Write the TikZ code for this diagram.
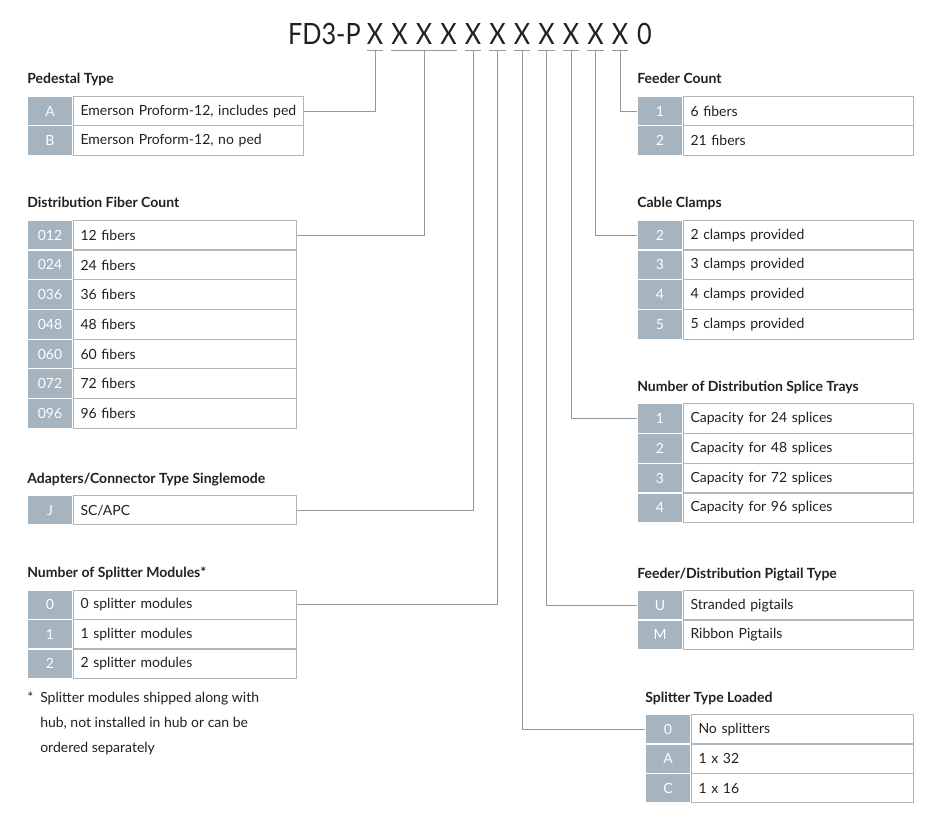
\documentclass[tikz,border=0pt]{standalone}
\usepackage{fontspec}
\setmainfont{Lato}
\newfontfamily\partfont[FakeStretch=0.86]{Lato}
\usetikzlibrary{positioning}
\definecolor{codegray}{HTML}{A5B4BE}
\definecolor{rulegray}{HTML}{AEB7BD}
\definecolor{linkgray}{HTML}{8F989E}
\definecolor{inkgray}{HTML}{231F20}

\begin{document}
\begin{tikzpicture}[x=0.75pt,y=-0.75pt,
  font=\fontsize{10.5}{12}\selectfont, text=inkgray,
  code/.style={fill=codegray,draw=white,line width=0.75pt,text=white,
    minimum width=33.75pt,minimum height=22.1pt,inner sep=0pt,anchor=north west},
  entry/.style={draw=rulegray,line width=0.75pt,text width=#1,minimum height=22.1pt,
    inner xsep=5.25pt,inner ysep=0pt,align=left},
  entry/.default=156.75pt,
  head/.style={font=\fontsize{10.5}{12}\selectfont\bfseries,inner sep=0pt,anchor=base west},
  link/.style={draw=linkgray,line width=0.75pt},
  big/.style={font=\partfont\fontsize{22}{24}\selectfont,inner xsep=0pt,inner ysep=4.8pt,
    text depth=0pt,anchor=base}]

  \useasboundingbox (0,0) rectangle (943,827);

  % part number
  \node[big,anchor=base east] (fd) at (361,44.3) {FD3-P};
  \foreach \i in {1,...,11}
    \node[big] (x\i) at ({375+24.5*(\i-1)},44.3) {X};
  \node[big] (x12) at (644.5,44.3) {0};
  \draw[link] (x1.south west) -- (x1.south east);
  \draw[link] (x2.south west) -- (x4.south east);
  \foreach \i in {5,...,11}
    \draw[link] (x\i.south west) -- (x\i.south east);

  % left column
  \foreach \key/\desc [count=\i] in {A/{Emerson Proform-12, includes ped},B/{Emerson Proform-12, no ped}} {
    \node[code] (pc\i) at (27,{96+29.5*(\i-1)}) {\key};
    \node[entry=162pt,right=0pt of pc\i] (pt\i) {\desc};
  }
  \node[head] at ([yshift=9pt]pc1.north west) {Pedestal Type};

  \foreach \key/\desc [count=\i] in {012/12 fibers,024/24 fibers,036/36 fibers,048/48 fibers,060/60 fibers,072/72 fibers,096/96 fibers} {
    \node[code] (dc\i) at (27,{220+29.7*(\i-1)}) {\key};
    \node[entry,right=0pt of dc\i] (dt\i) {\desc};
  }
  \node[head] at ([yshift=9pt]dc1.north west) {Distribution Fiber Count};

  \node[code] (ac1) at (27,495) {J};
  \node[entry,right=0pt of ac1] (at1) {SC/APC};
  \node[head] at ([yshift=9pt]ac1.north west) {Adapters/Connector Type Singlemode};

  \foreach \key [count=\i] in {0,1,2} {
    \node[code] (sc\i) at (27,{589.5+29.5*(\i-1)}) {\key};
    \node[entry,right=0pt of sc\i] (st\i) {\key\ splitter modules};
  }
  \node[head] at ([yshift=9pt]sc1.north west) {Number of Splitter Modules*};
  \node[anchor=north west,inner sep=0pt] (star) at (27,692) {*};
  \node[anchor=north west,inner sep=0pt,align=left,
    font=\fontsize{10.5}{18.75}\selectfont] (note) at (40,692)
    {Splitter modules shipped along with\\hub, not installed in hub or can be\\ordered separately};

  % right column
  \foreach \key/\desc [count=\i] in {1/6 fibers,2/21 fibers} {
    \node[code] (fc\i) at (637,{96+29.5*(\i-1)}) {\key};
    \node[entry=162pt,right=0pt of fc\i] (ft\i) {\desc};
  }
  \node[head] at ([yshift=9pt]fc1.north west) {Feeder Count};

  \foreach \key [count=\i] in {2,3,4,5} {
    \node[code] (cc\i) at (637,{220+29.7*(\i-1)}) {\key};
    \node[entry=162pt,right=0pt of cc\i] (ct\i) {\key\ clamps provided};
  }
  \node[head] at ([yshift=9pt]cc1.north west) {Cable Clamps};

  \foreach \key/\num [count=\i] in {1/24,2/48,3/72,4/96} {
    \node[code] (tc\i) at (637,{403.5+29.7*(\i-1)}) {\key};
    \node[entry=162pt,right=0pt of tc\i] (tt\i) {Capacity for \num\ splices};
  }
  \node[head] at ([yshift=9pt]tc1.north west) {Number of Distribution Splice Trays};

  \foreach \key/\desc [count=\i] in {U/Stranded pigtails,M/Ribbon Pigtails} {
    \node[code] (gc\i) at (637,{590+29.5*(\i-1)}) {\key};
    \node[entry=162pt,right=0pt of gc\i] (gt\i) {\desc};
  }
  \node[head] at ([yshift=9pt]gc1.north west) {Feeder/Distribution Pigtail Type};

  \foreach \key/\desc [count=\i] in {0/No splitters,A/1 x 32,C/1 x 16} {
    \node[code] (lc\i) at (645,{714+29.5*(\i-1)}) {\key};
    \node[entry=156pt,right=0pt of lc\i] (lt\i) {\desc};
  }
  \node[head] at ([yshift=9pt]lc1.north west) {Splitter Type Loaded};

  % connectors
  \draw[link] (x1.south) |- (pt1.east);
  \draw[link] (x3.south) |- (dt1.east);
  \draw[link] (x5.south) |- (at1.east);
  \draw[link] (x6.south) |- (st1.east);
  \draw[link] (x7.south) |- (lc1.west);
  \draw[link] (x8.south) |- (gc1.west);
  \draw[link] (x9.south) |- (tc1.west);
  \draw[link] (x10.south) |- (cc1.west);
  \draw[link] (x11.south) |- (fc1.west);
\end{tikzpicture}
\end{document}
